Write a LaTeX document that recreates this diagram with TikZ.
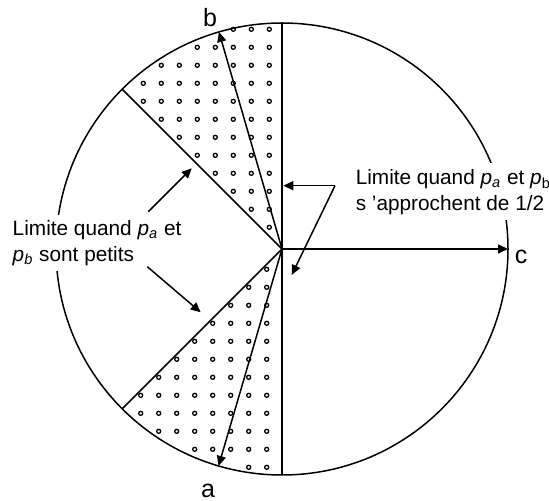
\documentclass[tikz,border=0pt]{standalone}
\usepackage{fontspec}
\setmainfont{Liberation Sans}
\usetikzlibrary{arrows.meta}

\tikzset{
  dot/.style={line width=0.65pt},
  lbl/.style={fill=white,align=left,inner sep=3pt,font=\fontsize{10.4}{12.8}\selectfont},
  letter/.style={font=\fontsize{12.5}{15}\selectfont}
}

\begin{document}
\begin{tikzpicture}[x=0.5pt,y=0.5pt,line width=0.75pt,>={Triangle[length=5pt,width=4.5pt]}]
\useasboundingbox (-282,-252) rectangle (267,249);
\coordinate (O) at (0,0);
\coordinate (T) at (90:226);
\coordinate (B) at (270:226);
\coordinate (U) at (135:226);
\coordinate (L) at (225:226);
\coordinate (Pb) at (106.2:226);
\coordinate (Pa) at (253.7:226);
\coordinate (Pc) at (0:226);

\draw (O) circle (226);
\draw (T) -- (B);
\draw (O) -- (U);
\draw (O) -- (L);

% dots in the two sectors
\foreach \n [count=\j from 0] in {3,5,7,8,8,7,6,5,4,3,2,1}
  \foreach \k in {1,...,\n}
    \draw[dot] (-12.7-18*\k+18, 219.7-18*\j) circle (2);
\foreach \n [count=\j from 0] in {1,2,3,4,5,6,7,8,8,7,5,2}
  \foreach \k in {1,...,\n}
    \draw[dot] (-15.3-18*\k+18, -20.3-18*\j) circle (2);

\draw[->] (O) -- (Pb);
\draw[->] (O) -- (Pa);
\draw[->] (O) -- (Pc);

\node[letter] (b) at (-72,231) {b};
\node[letter] (a) at (-74,-242) {a};
\node[letter] (c) at (239,-8) {c};

\node[lbl,anchor=west] (petits) at (-276,6)
  {Limite quand \textit{p}\textsubscript{\textit{a}} et\\\textit{p}\textsubscript{\textit{b}} sont petits};
\node[lbl,anchor=west] (demi) at (67,57)
  {Limite quand \textit{p}\textsubscript{\textit{a}} et \textit{p}\textsubscript{b}\\s 'approchent de 1/2};

% arrows from the labels
\coordinate (s1) at (-133.7,37.3);
\coordinate (e1) at (-90.3,80.7);
\coordinate (s2) at (-134.7,-17.7);
\coordinate (e2) at (-81.3,-63.3);
\coordinate (V) at (53,63.3);
\coordinate (e3) at (1.3,63.3);
\coordinate (e4) at (9.7,-26);
\draw[->] (s1) -- (e1);
\draw[->] (s2) -- (e2);
\draw[->] (V) -- (e3);
\draw[->] (V) -- (e4);
\end{tikzpicture}
\end{document}
